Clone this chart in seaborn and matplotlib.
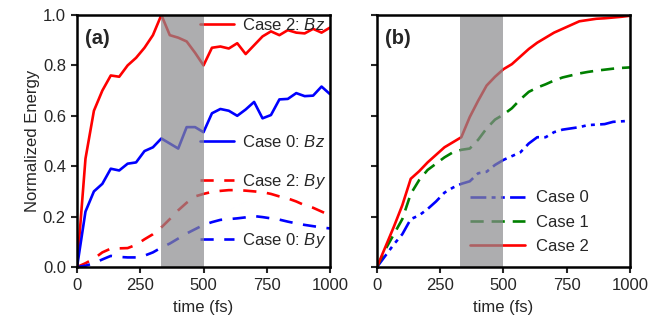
import matplotlib
matplotlib.use('Agg')
import matplotlib.pyplot as plt
from matplotlib.legend import Legend
import numpy as np
import seaborn as sns

sns.set_style('ticks')
plt.rcParams['font.family'] = ['Liberation Sans', 'DejaVu Sans']
plt.rcParams['mathtext.fontset'] = 'custom'
plt.rcParams['mathtext.it'] = 'Liberation Sans:italic'
plt.rcParams['mathtext.rm'] = 'Liberation Sans'

# time axis (fs), sampled every ~33 fs
t = np.linspace(0, 1000, 31)

# panel (a)
case2_bz = [0, 0.43, 0.62, 0.70, 0.76, 0.755, 0.80, 0.83, 0.87, 0.92, 1.0,
            0.92, 0.91, 0.895, 0.85, 0.80, 0.87, 0.875, 0.867, 0.888, 0.845,
            0.88, 0.915, 0.935, 0.92, 0.94, 0.93, 0.927, 0.945, 0.93, 0.95]
case0_bz = [0, 0.22, 0.30, 0.33, 0.39, 0.383, 0.41, 0.415, 0.46, 0.475, 0.51,
            0.49, 0.47, 0.555, 0.555, 0.535, 0.61, 0.627, 0.62, 0.60, 0.625,
            0.655, 0.59, 0.603, 0.665, 0.667, 0.69, 0.678, 0.68, 0.716, 0.686]
case2_by = [0, 0.015, 0.033, 0.058, 0.073, 0.074, 0.075, 0.088, 0.11, 0.13, 0.157,
            0.19, 0.225, 0.255, 0.28, 0.29, 0.298, 0.302, 0.305, 0.305, 0.303,
            0.300, 0.297, 0.29, 0.28, 0.272, 0.26, 0.245, 0.235, 0.22, 0.205]
case0_by = [0, 0.005, 0.015, 0.03, 0.044, 0.04, 0.038, 0.038, 0.045, 0.058, 0.077,
            0.093, 0.113, 0.133, 0.15, 0.167, 0.178, 0.187, 0.19, 0.193, 0.197,
            0.202, 0.198, 0.193, 0.188, 0.18, 0.173, 0.167, 0.162, 0.157, 0.153]

# panel (b)
case0_b = [0, 0.045, 0.09, 0.13, 0.19, 0.205, 0.23, 0.26, 0.295, 0.315, 0.33,
           0.34, 0.372, 0.378, 0.405, 0.425, 0.44, 0.455, 0.49, 0.515, 0.515,
           0.535, 0.545, 0.55, 0.555, 0.563, 0.565, 0.567, 0.576, 0.578, 0.58]
case1_b = [0, 0.07, 0.13, 0.19, 0.29, 0.345, 0.385, 0.41, 0.435, 0.455, 0.465,
           0.47, 0.505, 0.55, 0.585, 0.605, 0.63, 0.665, 0.695, 0.712, 0.725,
           0.74, 0.752, 0.76, 0.768, 0.774, 0.779, 0.783, 0.787, 0.79, 0.792]
case2_b = [0, 0.08, 0.16, 0.245, 0.35, 0.38, 0.415, 0.445, 0.475, 0.495, 0.515,
           0.595, 0.66, 0.72, 0.755, 0.785, 0.805, 0.835, 0.865, 0.89, 0.91,
           0.93, 0.945, 0.96, 0.975, 0.98, 0.985, 0.987, 0.99, 0.993, 0.997]

span = (330, 500)
lw = 1.9
fs = 12

fig = plt.figure(figsize=(6.7, 3.26), dpi=100)
ax1 = fig.add_axes([0.115, 0.181, 0.3775, 0.773])
ax2 = fig.add_axes([0.5627, 0.181, 0.3775, 0.773])

# (a)
sns.lineplot(x=t, y=case2_bz, ax=ax1, color='red', lw=lw)
sns.lineplot(x=t, y=case0_bz, ax=ax1, color='blue', lw=lw)
sns.lineplot(x=t, y=case2_by, ax=ax1, color='red', lw=lw, linestyle=(0, (5, 4)))
sns.lineplot(x=t, y=case0_by, ax=ax1, color='blue', lw=lw, linestyle=(0, (5, 4)))
l2bz, l0bz, l2by, l0by = ax1.lines[:4]

labels_a = ['Case 2: $Bz$', 'Case 0: $Bz$', 'Case 2: $By$', 'Case 0: $By$']
ypos_a = [0.96, 0.497, 0.339, 0.104]
for h, lab, yy in zip([l2bz, l0bz, l2by, l0by], labels_a, ypos_a):
    leg = Legend(ax1, [h], [lab], loc='center left', bbox_to_anchor=(0.487, yy),
                 frameon=False, fontsize=fs, handlelength=2.0,
                 handletextpad=0.5, borderpad=0, borderaxespad=0)
    ax1.add_artist(leg)

# (b)
sns.lineplot(x=t, y=case0_b, ax=ax2, color='blue', lw=lw,
             linestyle=(0, (6, 2, 1.5, 2, 1.5, 2)))
sns.lineplot(x=t, y=case1_b, ax=ax2, color='green', lw=lw, linestyle=(0, (5, 3)))
sns.lineplot(x=t, y=case2_b, ax=ax2, color='red', lw=lw)
ax2.legend(ax2.lines[:3], ['Case 0', 'Case 1', 'Case 2'], loc='center left',
           bbox_to_anchor=(0.366, 0.178), frameon=False, fontsize=fs,
           handlelength=3.3, handletextpad=0.7, labelspacing=0.55,
           borderpad=0, borderaxespad=0)

for ax, tag in [(ax1, '(a)'), (ax2, '(b)')]:
    ax.axvspan(span[0], span[1], color='#8a8a8e', alpha=0.7, lw=0, zorder=6)
    ax.set_xlim(0, 1000)
    ax.set_ylim(0, 1.0)
    ax.set_xticks([0, 250, 500, 750, 1000])
    ax.set_yticks([0, 0.2, 0.4, 0.6, 0.8, 1.0])
    ax.set_xlabel('time (fs)', fontsize=fs, labelpad=5)
    ax.tick_params(direction='out', length=4, width=1.5, labelsize=fs, pad=4)
    for s in ax.spines.values():
        s.set_linewidth(1.8)
        s.set_color('black')
        s.set_zorder(7)
    ax.text(0.03, 0.905, tag, transform=ax.transAxes, fontsize=14.5,
            fontweight='bold', va='center', ha='left')

ax1.set_ylabel('Normalized Energy', fontsize=fs, labelpad=2)
ax1.yaxis.set_major_formatter(matplotlib.ticker.FormatStrFormatter('%.1f'))
ax2.set_yticklabels([])

fig.savefig('out.png', dpi=100)
